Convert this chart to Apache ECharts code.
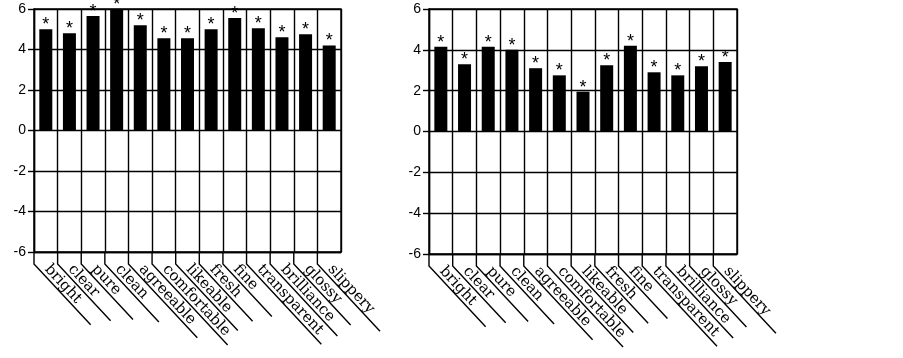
<!DOCTYPE html>
<html>
<head>
<meta charset="utf-8">
<script src="https://cdn.jsdelivr.net/npm/echarts@6/dist/echarts.min.js"></script>
<style>
  html, body { margin: 0; padding: 0; background: #fff; }
  #chart { width: 903px; height: 358px; }
</style>
</head>
<body>
<div id="chart"></div>
<script>
var categories = ["bright", "clear", "pure", "clean", "agreeable", "comfortable", "likeable",
  "fresh", "fine", "transparent", "brilliance", "glossy", "slippery"];
// left panel
var leftValues = [5.0, 4.8, 5.65, 6.0, 5.2, 4.55, 4.55, 5.0, 5.55, 5.05, 4.6, 4.75, 4.2];
// right panel
var rightValues = [4.15, 3.3, 4.15, 4.0, 3.1, 2.75, 1.95, 3.25, 4.2, 2.9, 2.75, 3.2, 3.4];
var yMin = -6;
var yMax = 6;
var yStep = 2;

var labelFont = '15px "DejaVu Serif"';
var angle = 47 * Math.PI / 180;
var lineColor = "#000";
var lineW = 1.4;

var ctx = document.createElement("canvas").getContext("2d");
ctx.font = labelFont;
function textWidth(s) {
  return ctx.measureText(s).width;
}

// slanted leader line + label under each category
function leaderLine(params, api) {
  var idx = api.value(0);
  var base = api.coord([idx, api.value(1)]);
  var band = api.size([1, 0])[0];
  var x0 = base[0] - band / 2;
  var y0 = base[1];
  var y1 = y0 + 12;
  var name = categories[idx];
  var start = 11;
  var len = 54 + 0.62 * textWidth(name);
  var c = Math.cos(angle), s = Math.sin(angle);
  return {
    type: "group",
    children: [
      {
        type: "polyline",
        shape: { points: [[x0, y0], [x0, y1], [x0 + len * c, y1 + len * s]] },
        style: { stroke: lineColor, lineWidth: lineW, fill: null }
      },
      {
        type: "text",
        x: x0 + start * c,
        y: y1 + start * s,
        rotation: -angle,
        style: {
          text: name,
          fill: "#000",
          font: labelFont,
          align: "left",
          verticalAlign: "bottom"
        }
      }
    ]
  };
}

function xAxisFor(gridIndex) {
  return {
    type: "category",
    gridIndex: gridIndex,
    data: categories,
    boundaryGap: true,
    axisLine: { onZero: false, lineStyle: { color: lineColor, width: lineW } },
    axisTick: { show: false },
    axisLabel: { show: false },
    splitLine: { show: true, interval: 0, lineStyle: { color: lineColor, width: lineW } }
  };
}

function yAxisFor(gridIndex) {
  return {
    type: "value",
    gridIndex: gridIndex,
    min: yMin,
    max: yMax,
    interval: yStep,
    axisLine: { show: true, lineStyle: { color: lineColor, width: lineW } },
    axisTick: { show: true, length: 6, lineStyle: { color: lineColor, width: lineW } },
    axisLabel: { color: "#000", fontSize: 14, fontFamily: "Liberation Sans", margin: 8 },
    splitLine: { show: true, lineStyle: { color: lineColor, width: lineW } }
  };
}

function barSeries(gridIndex, values) {
  return {
    type: "bar",
    xAxisIndex: gridIndex,
    yAxisIndex: gridIndex,
    data: values,
    barWidth: 13,
    itemStyle: { color: "#000" },
    label: {
      show: true,
      position: "top",
      distance: 0,
      offset: [0, 5],
      formatter: "*",
      color: "#000",
      fontSize: 18,
      fontFamily: "Liberation Sans"
    },
    z: 3
  };
}

function leaderSeries(gridIndex) {
  return {
    type: "custom",
    xAxisIndex: gridIndex,
    yAxisIndex: gridIndex,
    data: categories.map(function (c, i) { return [i, yMin]; }),
    renderItem: leaderLine,
    clip: false,
    silent: true,
    z: 4
  };
}

var myChart = echarts.init(document.getElementById("chart"), null, { renderer: "canvas" });
var option = {
  backgroundColor: "#fff",
  animation: false,
  grid: [
    { left: 34, top: 9, width: 307, height: 243, show: true, borderColor: lineColor, borderWidth: lineW },
    { left: 429, top: 9, width: 308, height: 245, show: true, borderColor: lineColor, borderWidth: lineW }
  ],
  xAxis: [xAxisFor(0), xAxisFor(1)],
  yAxis: [yAxisFor(0), yAxisFor(1)],
  series: [
    barSeries(0, leftValues),
    barSeries(1, rightValues),
    leaderSeries(0),
    leaderSeries(1)
  ]
};
myChart.setOption(option);
</script>
</body>
</html>
